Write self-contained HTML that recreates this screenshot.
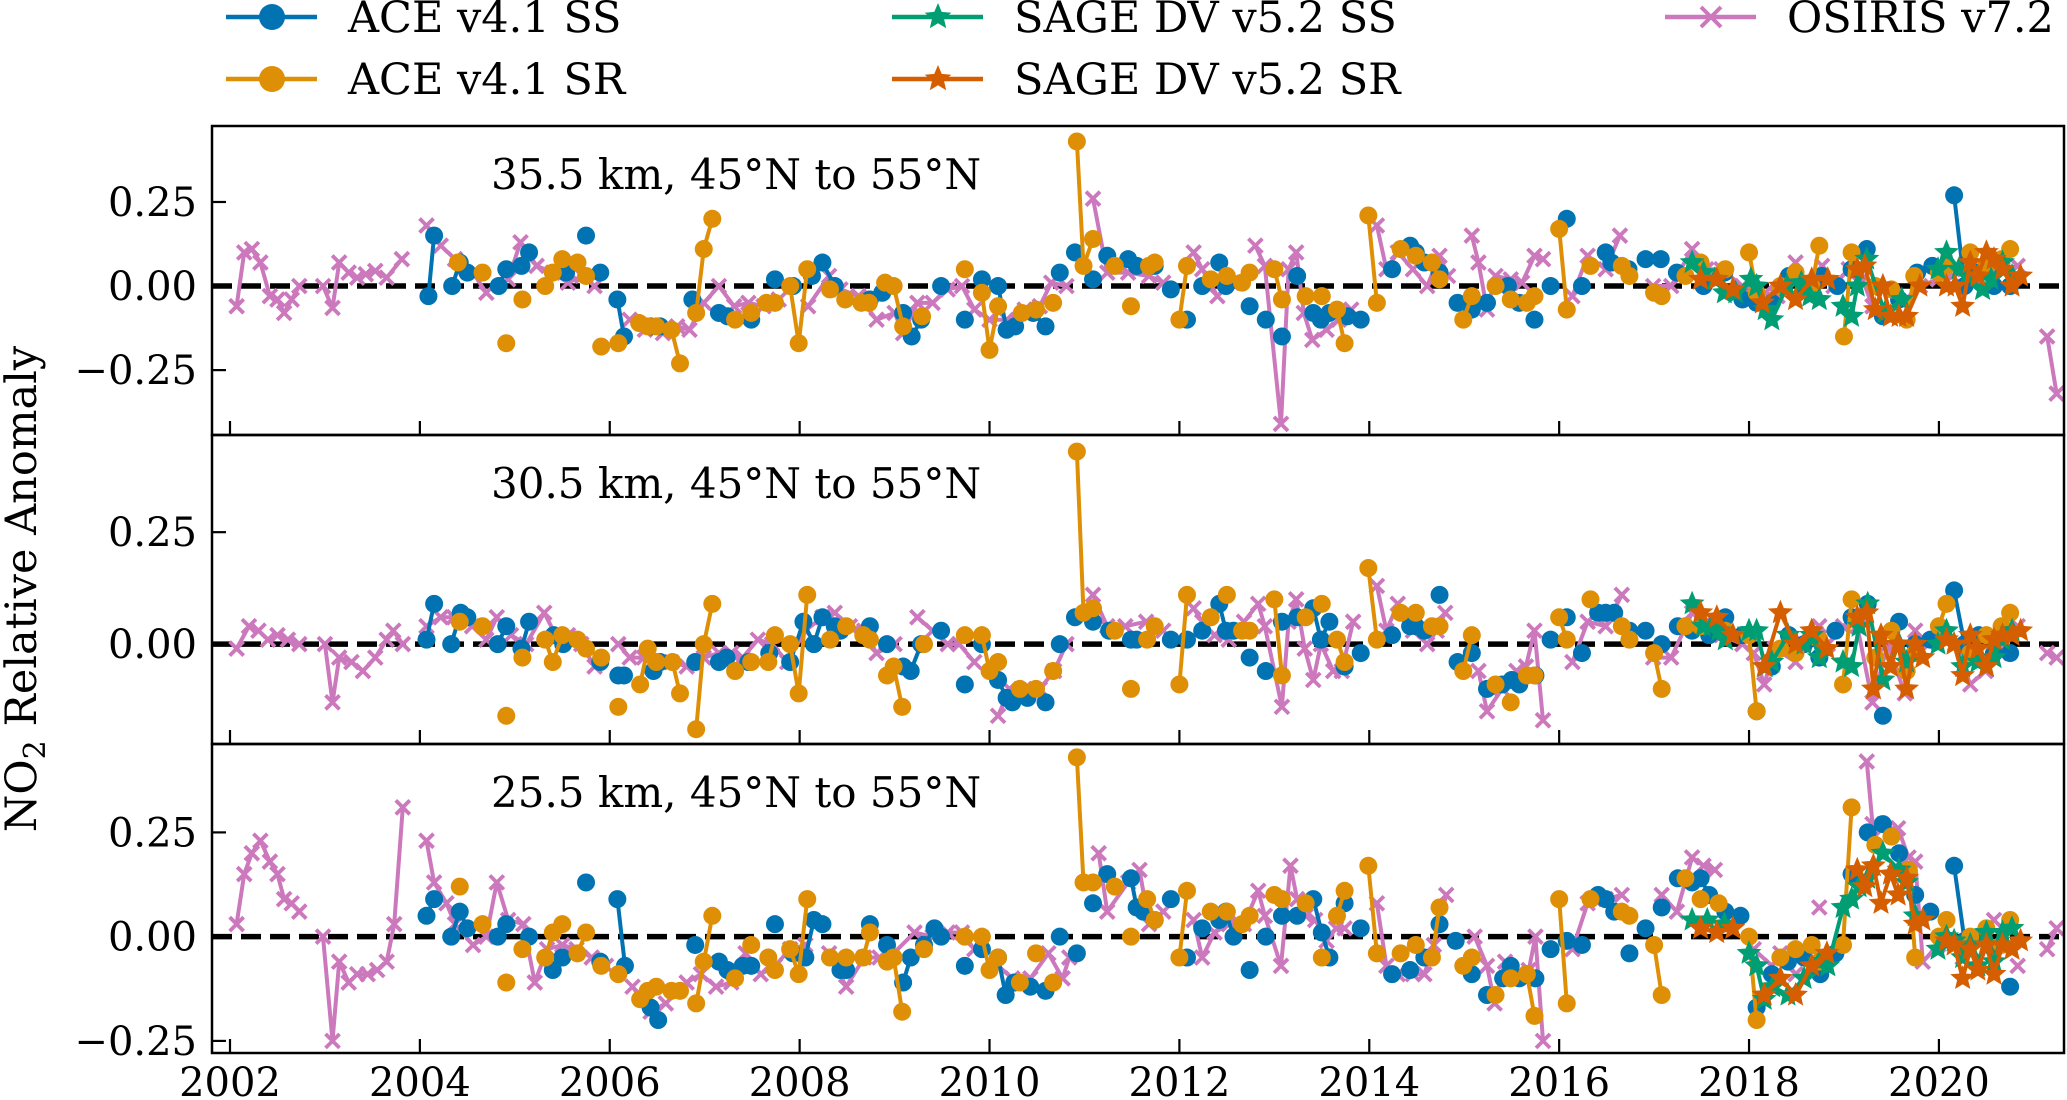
<!DOCTYPE html>
<html><head><meta charset="utf-8"><title>NO2 relative anomaly</title>
<style>
html,body{margin:0;padding:0;background:#fff;}
svg{display:block;font-family:"DejaVu Serif","Liberation Serif",serif;}
</style></head>
<body>
<svg id="chart" width="2067" height="1100" viewBox="0 0 2067 1100" xmlns="http://www.w3.org/2000/svg">
<g id="legend"></g>
<g id="panels"></g>
<text transform="translate(36,589) rotate(-90)" text-anchor="middle" font-size="43">NO<tspan font-size="30" dy="9">2</tspan><tspan dy="-9"> Relative Anomaly</tspan></text>
</svg>
<script>
// ---------- data ----------
const seriesNames = ["ACE v4.1 SS","ACE v4.1 SR","SAGE DV v5.2 SS","SAGE DV v5.2 SR","OSIRIS v7.2"];
const panelTitles = ["35.5 km, 45°N to 55°N","30.5 km, 45°N to 55°N","25.5 km, 45°N to 55°N"];
const xTickYears = [2002,2004,2006,2008,2010,2012,2014,2016,2018,2020];
const yTickValues = [[0.25,0,-0.25],[0.25,0],[0.25,0,-0.25]];

// Panel 1 (35.5 km)
const p1OsirisX = [2002.07,2002.15,2002.23,2002.32,2002.42,2002.5,2002.57,2002.65,2002.73,2002.98,2003.08,2003.15,2003.25,2003.34,2003.43,2003.53,2003.65,2003.81,2004.07,2004.22,2004.37,2004.56,2004.7,2004.93,2005.06,2005.23,2005.4,2005.56,2005.71,2005.84,2006.21,2006.37,2006.56,2006.71,2006.84,2006.99,2007.15,2007.31,2007.46,2007.62,2007.78,2008.09,2008.31,2008.43,2008.62,2008.81,2009.0,2009.09,2009.24,2009.4,2009.56,2009.71,2009.84,2010.0,2010.18,2010.37,2010.53,2010.65,2010.81,2011.09,2011.24,2011.46,2011.68,2011.83,2012.15,2012.24,2012.4,2012.55,2012.8,2012.9,2013.07,2013.15,2013.23,2013.31,2013.4,2013.55,2013.68,2013.81,2014.08,2014.18,2014.3,2014.46,2014.61,2014.74,2014.83,2015.08,2015.15,2015.24,2015.33,2015.49,2015.61,2015.74,2015.83,2016.14,2016.3,2016.49,2016.64,2016.99,2017.18,2017.4,2017.55,2017.71,2017.93,2018.05,2018.17,2018.3,2018.49,2018.61,2018.77,2018.89,2019.05,2019.17,2019.3,2019.43,2019.61,2019.8,2019.99,2020.14,2020.27,2020.39,2020.52,2020.67,2020.83,2021.14,2021.24];
const p1OsirisY = [-0.06,0.10,0.11,0.07,-0.03,-0.04,-0.08,-0.04,0.0,0.0,-0.065,0.07,0.04,0.025,0.035,0.045,0.025,0.08,0.18,0.12,0.08,0.04,-0.02,0.02,0.13,0.06,0.04,0.01,0.03,0.0,-0.1,-0.13,-0.14,-0.12,-0.13,-0.05,0.0,-0.06,-0.05,-0.06,-0.04,-0.06,0.03,-0.01,-0.03,-0.1,-0.08,-0.14,-0.05,-0.05,-0.01,0.0,-0.07,-0.1,-0.1,-0.07,-0.06,0.01,0.0,0.26,0.04,0.04,0.03,0.01,0.1,0.05,-0.03,0.01,0.12,0.06,-0.41,0.05,0.1,-0.08,-0.16,-0.13,-0.1,-0.07,0.18,0.05,0.1,0.05,0.0,0.09,0.03,0.15,0.07,-0.07,0.03,0.02,0.01,0.09,0.08,-0.03,0.09,0.05,0.15,0.0,0.0,0.11,0.05,0.05,0.0,-0.02,-0.02,-0.03,0.07,0.0,0.06,0.0,0.05,0.04,-0.06,-0.08,-0.05,0.0,0.02,0.03,0.05,0.02,0.06,0.05,0.06,-0.15,-0.32];
const p1AceSSX = [2004.09,2004.15,2004.34,2004.42,2004.5,2004.83,2004.91,2005.07,2005.15,2005.54,2005.75,2005.9,2006.08,2006.15,2006.43,2006.53,2006.87,2007.15,2007.24,2007.49,2007.74,2007.93,2008.13,2008.24,2008.37,2008.74,2008.87,2009.09,2009.18,2009.28,2009.49,2009.74,2009.92,2010.09,2010.18,2010.27,2010.46,2010.59,2010.74,2010.9,2011.09,2011.24,2011.46,2011.55,2011.74,2011.91,2012.08,2012.24,2012.42,2012.49,2012.74,2012.91,2013.08,2013.24,2013.41,2013.49,2013.58,2013.77,2013.91,2014.24,2014.43,2014.49,2014.58,2014.74,2014.93,2015.08,2015.24,2015.46,2015.58,2015.74,2015.91,2016.08,2016.24,2016.49,2016.55,2016.73,2016.91,2017.07,2017.24,2017.52,2017.74,2017.93,2018.08,2018.24,2018.42,2018.58,2018.77,2018.93,2019.08,2019.24,2019.41,2019.58,2019.77,2019.93,2020.16,2020.27,2020.42,2020.58,2020.75];
const p1AceSSY = [-0.03,0.15,0.0,0.07,0.04,0.0,0.05,0.06,0.1,0.04,0.15,0.04,-0.04,-0.15,-0.12,-0.12,-0.04,-0.08,-0.09,-0.1,0.02,0.0,0.03,0.07,0.0,-0.04,-0.02,-0.08,-0.15,-0.1,0.0,-0.1,0.02,0.0,-0.13,-0.12,-0.08,-0.12,0.04,0.1,0.02,0.09,0.08,0.06,0.06,-0.01,-0.1,0.0,0.07,0.0,-0.06,-0.1,-0.15,0.03,-0.08,-0.1,-0.08,-0.09,-0.1,0.05,0.12,0.1,0.07,0.04,-0.05,-0.07,-0.05,0.0,-0.05,-0.1,0.0,0.2,0.0,0.1,0.07,0.05,0.08,0.08,0.04,0.0,0.04,-0.04,-0.05,-0.05,0.03,0.0,0.03,0.0,0.05,0.11,-0.09,-0.04,0.04,0.06,0.27,0.0,0.04,0.0,0.0];
const p1AceSRX = [2004.4,2004.66,2004.91,2005.08,2005.32,2005.4,2005.5,2005.66,2005.75,2005.91,2006.09,2006.31,2006.4,2006.49,2006.65,2006.74,2006.91,2006.99,2007.08,2007.32,2007.49,2007.65,2007.74,2007.9,2007.99,2008.08,2008.32,2008.48,2008.65,2008.73,2008.9,2008.99,2009.09,2009.29,2009.74,2009.92,2010.0,2010.09,2010.34,2010.49,2010.67,2010.92,2010.99,2011.09,2011.32,2011.49,2011.68,2011.74,2012.0,2012.08,2012.33,2012.5,2012.66,2012.74,2013.0,2013.08,2013.33,2013.5,2013.66,2013.74,2013.99,2014.08,2014.33,2014.49,2014.66,2014.74,2014.99,2015.08,2015.33,2015.49,2015.66,2015.74,2016.0,2016.08,2016.33,2016.66,2016.74,2017.0,2017.08,2017.33,2017.49,2017.75,2018.0,2018.08,2018.33,2018.49,2018.66,2018.74,2019.0,2019.08,2019.33,2019.5,2019.66,2019.74,2020.0,2020.08,2020.33,2020.5,2020.66,2020.75];
const p1AceSRY = [0.07,0.04,-0.17,-0.04,0.0,0.04,0.08,0.07,0.03,-0.18,-0.17,-0.11,-0.12,-0.12,-0.13,-0.23,-0.08,0.11,0.2,-0.1,-0.08,-0.05,-0.05,0.0,-0.17,0.05,-0.01,-0.04,-0.05,-0.05,0.01,0.0,-0.12,-0.09,0.05,-0.02,-0.19,-0.06,-0.08,-0.07,-0.05,0.43,0.06,0.14,0.06,-0.06,0.06,0.07,-0.1,0.06,0.02,0.03,0.01,0.04,0.05,-0.04,-0.03,-0.03,-0.07,-0.17,0.21,-0.05,0.11,0.09,0.07,0.02,-0.1,-0.03,0.0,-0.04,-0.05,-0.03,0.17,-0.07,0.06,0.06,0.03,-0.02,-0.03,0.03,0.07,0.05,0.1,-0.02,0.0,0.04,0.0,0.12,-0.15,0.1,0.0,-0.01,-0.1,0.03,0.04,0.06,0.1,0.06,0.08,0.11];
const p1SageSSX = [2017.4,2017.52,2017.64,2017.74,2017.86,2018.02,2018.08,2018.17,2018.24,2018.4,2018.55,2018.64,2018.74,2018.99,2019.08,2019.14,2019.24,2019.43,2019.61,2019.99,2020.08,2020.21,2020.3,2020.46,2020.55,2020.67,2020.77];
const p1SageSSY = [0.07,0.04,0.02,-0.02,-0.02,0.02,0.0,-0.07,-0.1,0.0,0.01,-0.03,-0.04,-0.06,-0.09,0.0,0.08,-0.08,-0.04,0.05,0.1,0.05,0.03,-0.01,0.02,0.07,0.03];
const p1SageSRX = [2017.49,2017.66,2017.83,2018.14,2018.33,2018.49,2018.66,2018.83,2019.14,2019.22,2019.33,2019.41,2019.49,2019.58,2019.66,2019.8,2020.08,2020.17,2020.25,2020.33,2020.41,2020.5,2020.58,2020.67,2020.77,2020.86];
const p1SageSRY = [0.02,0.02,-0.01,-0.05,0.0,-0.04,0.02,0.02,0.05,0.06,-0.07,0.0,-0.09,-0.09,-0.09,0.0,0.0,0.0,-0.06,0.07,0.03,0.1,0.08,0.05,0.0,0.03];

// Panel 2 (30.5 km)
const p2OsirisX = [2002.07,2002.2,2002.3,2002.4,2002.5,2002.61,2002.73,2003.0,2003.08,2003.15,2003.28,2003.4,2003.53,2003.65,2003.72,2003.82,2004.07,2004.22,2004.36,2004.55,2004.7,2004.81,2004.96,2005.12,2005.31,2005.43,2005.56,2005.7,2005.84,2006.09,2006.21,2006.36,2006.53,2006.65,2006.81,2006.99,2007.15,2007.28,2007.4,2007.56,2007.71,2007.87,2008.06,2008.24,2008.37,2008.53,2008.68,2008.81,2009.0,2009.24,2009.4,2009.56,2009.68,2009.84,2010.09,2010.21,2010.37,2010.53,2010.68,2010.81,2011.09,2011.24,2011.43,2011.65,2011.83,2012.15,2012.24,2012.37,2012.52,2012.68,2012.83,2012.9,2013.08,2013.15,2013.23,2013.32,2013.41,2013.49,2013.62,2013.71,2013.83,2014.08,2014.18,2014.3,2014.46,2014.61,2014.71,2014.8,2015.15,2015.24,2015.4,2015.55,2015.65,2015.74,2015.83,2016.14,2016.3,2016.49,2016.66,2016.99,2017.18,2017.4,2017.55,2017.71,2017.93,2018.05,2018.16,2018.27,2018.49,2018.58,2018.74,2018.83,2018.99,2019.14,2019.3,2019.46,2019.64,2019.75,2019.89,2020.05,2020.17,2020.33,2020.49,2020.64,2020.83,2021.14,2021.24];
const p2OsirisY = [-0.01,0.04,0.03,0.01,0.02,0.01,0.0,0.0,-0.13,-0.03,-0.04,-0.06,-0.03,0.01,0.03,0.0,0.04,0.06,0.06,0.04,0.01,0.06,0.02,0.0,0.07,0.02,0.02,0.0,-0.05,0.0,-0.03,-0.03,-0.04,-0.04,-0.05,-0.03,-0.02,-0.02,-0.03,0.01,0.0,-0.04,0.03,0.06,0.07,0.04,0.03,-0.02,0.0,0.06,0.03,0.0,0.0,-0.04,-0.16,-0.1,-0.1,-0.1,-0.06,0.0,0.11,0.04,0.04,0.05,0.03,0.08,0.05,0.02,0.01,0.05,0.09,0.04,-0.14,0.05,0.1,-0.01,-0.08,0.0,-0.06,-0.06,0.05,0.13,0.03,0.09,0.03,0.0,0.03,0.07,-0.06,-0.15,-0.1,-0.06,-0.05,0.03,-0.17,-0.04,0.05,0.04,0.11,-0.03,-0.03,0.07,0.05,0.02,0.0,-0.02,-0.09,-0.01,-0.04,0.0,0.04,0.0,0.04,0.04,-0.13,0.0,-0.11,0.03,0.0,0.01,0.0,-0.09,-0.06,-0.02,0.04,-0.02,-0.03];
const p2AceSSX = [2004.07,2004.15,2004.33,2004.43,2004.5,2004.82,2004.91,2005.07,2005.15,2005.41,2005.51,2005.9,2006.09,2006.15,2006.46,2006.53,2006.9,2007.15,2007.23,2007.46,2007.68,2007.9,2008.04,2008.15,2008.24,2008.37,2008.43,2008.74,2008.92,2009.09,2009.17,2009.28,2009.49,2009.74,2009.92,2010.09,2010.18,2010.24,2010.4,2010.59,2010.74,2010.9,2011.09,2011.26,2011.49,2011.55,2011.91,2012.08,2012.24,2012.42,2012.49,2012.57,2012.74,2012.91,2013.08,2013.24,2013.41,2013.49,2013.58,2013.74,2013.91,2014.24,2014.43,2014.49,2014.58,2014.74,2014.93,2015.08,2015.24,2015.4,2015.5,2015.58,2015.75,2015.91,2016.08,2016.24,2016.41,2016.49,2016.58,2016.74,2016.91,2017.08,2017.25,2017.4,2017.58,2017.75,2017.93,2018.08,2018.24,2018.42,2018.58,2018.74,2018.91,2019.08,2019.25,2019.41,2019.58,2019.75,2019.91,2020.16,2020.27,2020.42,2020.58,2020.75];
const p2AceSSY = [0.01,0.09,0.0,0.07,0.06,0.0,0.04,-0.01,0.05,0.02,0.0,-0.04,-0.07,-0.07,-0.06,-0.04,-0.04,-0.04,-0.03,-0.04,-0.02,-0.04,0.05,0.0,0.06,0.04,0.03,0.04,0.0,-0.05,-0.06,0.0,0.03,-0.09,0.0,-0.08,-0.12,-0.13,-0.12,-0.13,0.0,0.06,0.05,0.03,0.01,0.01,0.01,0.01,0.03,0.09,0.03,0.03,-0.03,-0.06,0.05,0.06,0.08,0.01,0.05,-0.05,-0.02,0.02,0.04,0.04,0.03,0.11,-0.04,-0.02,-0.1,-0.09,-0.08,-0.09,-0.07,0.01,0.06,-0.02,0.07,0.07,0.07,0.03,0.03,0.0,0.04,0.03,0.02,0.06,0.02,-0.15,-0.05,0.02,0.0,-0.03,0.03,0.06,0.09,-0.16,0.05,0.0,0.01,0.12,0.0,0.02,-0.02,-0.02];
const p2AceSRX = [2004.42,2004.66,2004.91,2005.08,2005.32,2005.4,2005.5,2005.66,2005.75,2005.91,2006.09,2006.32,2006.4,2006.49,2006.66,2006.74,2006.91,2006.99,2007.08,2007.32,2007.49,2007.67,2007.74,2007.9,2007.99,2008.08,2008.32,2008.49,2008.67,2008.74,2008.92,2008.99,2009.08,2009.31,2009.74,2009.92,2010.0,2010.09,2010.32,2010.49,2010.67,2010.92,2010.99,2011.09,2011.32,2011.49,2011.66,2011.74,2012.0,2012.08,2012.33,2012.5,2012.66,2012.74,2013.0,2013.08,2013.33,2013.5,2013.66,2013.74,2013.99,2014.08,2014.33,2014.49,2014.66,2014.74,2014.99,2015.08,2015.33,2015.49,2015.66,2015.74,2016.0,2016.08,2016.33,2016.66,2016.74,2017.0,2017.08,2017.33,2017.49,2017.75,2018.0,2018.08,2018.33,2018.49,2018.66,2018.74,2018.99,2019.08,2019.33,2019.5,2019.66,2019.75,2020.0,2020.08,2020.33,2020.5,2020.66,2020.75];
const p2AceSRY = [0.05,0.04,-0.16,-0.03,0.01,-0.04,0.02,0.01,-0.01,-0.03,-0.14,-0.09,-0.01,-0.04,-0.04,-0.11,-0.19,0.0,0.09,-0.06,-0.04,-0.04,0.02,0.0,-0.11,0.11,0.01,0.04,0.02,0.01,-0.07,-0.05,-0.14,0.0,0.02,0.02,-0.06,-0.04,-0.1,-0.1,-0.06,0.43,0.07,0.08,0.03,-0.1,0.01,0.04,-0.09,0.11,0.06,0.11,0.03,0.03,0.1,-0.07,0.06,0.09,0.01,-0.04,0.17,0.01,0.07,0.07,0.04,0.04,-0.06,0.02,-0.09,-0.13,-0.07,-0.07,0.06,0.01,0.1,0.04,0.01,-0.02,-0.1,0.04,0.04,0.03,0.02,-0.15,-0.01,-0.02,0.02,0.01,-0.09,0.1,-0.03,0.03,-0.06,-0.02,0.04,0.09,-0.02,0.02,0.04,0.07];
const p2SageSSX = [2017.4,2017.52,2017.6,2017.68,2017.75,2018.0,2018.08,2018.17,2018.24,2018.41,2018.58,2018.66,2018.74,2018.99,2019.08,2019.16,2019.25,2019.41,2019.58,2019.66,2019.99,2020.08,2020.16,2020.25,2020.41,2020.5,2020.58,2020.67,2020.77];
const p2SageSSY = [0.09,0.04,0.04,0.03,0.01,0.03,0.03,-0.05,-0.04,0.02,0.0,0.02,-0.03,-0.04,-0.05,0.04,0.09,-0.08,0.0,-0.04,0.0,0.03,0.0,-0.05,-0.04,-0.05,-0.03,0.01,0.03];
const p2SageSRX = [2017.49,2017.66,2017.83,2018.16,2018.33,2018.49,2018.66,2018.82,2019.14,2019.24,2019.31,2019.39,2019.49,2019.57,2019.66,2019.75,2019.83,2020.08,2020.16,2020.25,2020.33,2020.41,2020.5,2020.58,2020.67,2020.77,2020.86];
const p2SageSRY = [0.07,0.06,0.02,-0.05,0.07,0.0,0.03,-0.01,0.06,0.07,-0.1,0.02,-0.05,0.0,-0.1,0.0,-0.03,0.01,0.0,-0.07,0.02,-0.01,-0.05,0.01,0.02,0.02,0.03];

// Panel 3 (25.5 km)
const p3OsirisX = [2002.07,2002.15,2002.23,2002.32,2002.42,2002.5,2002.57,2002.65,2002.73,2002.98,2003.08,2003.15,2003.25,2003.34,2003.45,2003.55,2003.65,2003.73,2003.82,2004.07,2004.15,2004.28,2004.37,2004.56,2004.7,2004.81,2004.93,2005.09,2005.21,2005.34,2005.5,2005.65,2005.81,2005.96,2006.24,2006.43,2006.59,2006.81,2006.96,2007.12,2007.28,2007.43,2007.59,2007.74,2007.9,2008.06,2008.31,2008.49,2008.68,2008.84,2008.99,2009.21,2009.4,2009.56,2009.71,2009.84,2010.09,2010.24,2010.43,2010.62,2010.77,2010.84,2011.15,2011.24,2011.46,2011.58,2011.68,2011.83,2012.15,2012.24,2012.37,2012.52,2012.68,2012.83,2012.9,2013.07,2013.17,2013.24,2013.33,2013.43,2013.55,2013.65,2013.74,2014.08,2014.18,2014.3,2014.46,2014.58,2014.68,2014.81,2015.11,2015.24,2015.32,2015.43,2015.55,2015.68,2015.75,2015.83,2016.14,2016.3,2016.49,2016.66,2017.08,2017.24,2017.4,2017.52,2017.64,2018.05,2018.24,2018.33,2018.49,2018.74,2019.24,2019.3,2019.41,2019.57,2019.68,2019.75,2019.83,2019.99,2020.11,2020.25,2020.42,2020.58,2020.83,2021.14,2021.24];
const p3OsirisY = [0.03,0.15,0.2,0.23,0.18,0.15,0.09,0.08,0.06,0.0,-0.25,-0.06,-0.11,-0.09,-0.09,-0.08,-0.06,0.03,0.31,0.23,0.13,0.08,0.03,-0.02,0.0,0.13,0.04,0.03,-0.11,-0.03,-0.02,-0.03,-0.05,-0.07,-0.12,-0.18,-0.16,-0.11,-0.09,-0.12,-0.11,-0.04,-0.09,-0.07,-0.03,-0.02,-0.04,-0.12,-0.05,-0.05,-0.04,0.01,0.0,0.01,0.01,-0.03,-0.07,-0.1,-0.1,-0.04,-0.1,-0.05,0.2,0.06,0.13,0.16,0.03,0.06,0.04,-0.05,0.01,0.03,0.03,0.11,0.05,-0.07,0.17,0.09,0.05,0.04,-0.01,0.02,0.02,0.08,-0.07,-0.09,-0.09,-0.09,-0.02,0.1,0.0,-0.07,-0.16,-0.06,-0.09,-0.08,0.0,-0.25,-0.03,0.08,0.09,0.1,0.1,0.06,0.19,0.17,0.16,-0.03,-0.07,-0.04,-0.09,0.07,0.42,0.27,0.26,0.26,0.19,0.18,-0.06,-0.02,-0.01,-0.05,0.0,0.04,-0.07,-0.03,0.02];
const p3AceSSX = [2004.07,2004.15,2004.33,2004.42,2004.5,2004.82,2004.91,2005.15,2005.4,2005.5,2005.75,2005.9,2006.08,2006.16,2006.43,2006.51,2006.9,2007.15,2007.24,2007.4,2007.49,2007.74,2007.93,2008.06,2008.15,2008.24,2008.43,2008.49,2008.74,2008.92,2009.09,2009.17,2009.31,2009.42,2009.49,2009.74,2009.92,2010.09,2010.17,2010.26,2010.43,2010.59,2010.74,2010.92,2011.09,2011.24,2011.49,2011.55,2011.62,2011.74,2011.91,2012.08,2012.24,2012.42,2012.49,2012.57,2012.74,2012.91,2013.08,2013.24,2013.41,2013.5,2013.58,2013.74,2013.91,2014.24,2014.43,2014.58,2014.74,2014.91,2015.08,2015.24,2015.41,2015.49,2015.58,2015.75,2015.91,2016.08,2016.24,2016.41,2016.49,2016.58,2016.74,2016.91,2017.08,2017.25,2017.4,2017.49,2017.58,2017.75,2017.91,2018.08,2018.24,2018.41,2018.58,2018.75,2018.91,2019.08,2019.25,2019.41,2019.58,2019.75,2019.91,2020.16,2020.27,2020.42,2020.58,2020.75];
const p3AceSSY = [0.05,0.09,0.0,0.06,0.02,0.0,0.03,0.0,-0.08,-0.05,0.13,-0.06,0.09,-0.07,-0.17,-0.2,-0.02,-0.06,-0.08,-0.07,-0.07,0.03,-0.04,-0.05,0.04,0.03,-0.08,-0.08,0.03,-0.02,-0.11,-0.05,-0.02,0.02,0.0,-0.07,-0.03,-0.05,-0.14,-0.11,-0.12,-0.13,0.0,-0.04,0.08,0.15,0.14,0.07,0.06,0.04,0.09,-0.05,0.02,0.04,0.06,0.0,-0.08,0.0,0.05,0.05,0.09,0.01,-0.05,0.08,0.02,-0.09,-0.08,-0.05,0.03,-0.01,-0.09,-0.14,-0.1,-0.07,-0.1,-0.1,-0.03,-0.01,-0.02,0.1,0.09,0.06,-0.04,0.02,0.07,0.14,0.13,0.14,0.1,0.06,0.05,-0.17,-0.09,-0.06,-0.05,-0.09,-0.04,0.15,0.25,0.27,0.2,0.1,0.06,0.17,-0.01,0.0,-0.03,-0.12];
const p3AceSRX = [2004.42,2004.66,2004.91,2005.08,2005.32,2005.4,2005.5,2005.66,2005.75,2005.91,2006.09,2006.32,2006.4,2006.49,2006.65,2006.74,2006.91,2006.99,2007.08,2007.32,2007.49,2007.67,2007.74,2007.9,2007.99,2008.08,2008.32,2008.49,2008.67,2008.74,2008.92,2008.99,2009.08,2009.31,2009.74,2009.92,2010.0,2010.09,2010.32,2010.49,2010.67,2010.92,2010.99,2011.09,2011.32,2011.49,2011.66,2011.74,2012.0,2012.08,2012.33,2012.5,2012.66,2012.74,2013.0,2013.08,2013.33,2013.5,2013.66,2013.74,2013.99,2014.08,2014.33,2014.49,2014.66,2014.74,2014.99,2015.08,2015.33,2015.49,2015.66,2015.74,2016.0,2016.08,2016.33,2016.66,2016.74,2017.0,2017.08,2017.33,2017.49,2017.68,2018.0,2018.08,2018.33,2018.49,2018.66,2018.74,2018.99,2019.08,2019.33,2019.5,2019.68,2019.75,2020.0,2020.08,2020.33,2020.5,2020.66,2020.75];
const p3AceSRY = [0.12,0.03,-0.11,-0.03,-0.05,0.01,0.03,-0.04,0.01,-0.07,-0.09,-0.15,-0.13,-0.12,-0.13,-0.13,-0.16,-0.06,0.05,-0.1,-0.02,-0.05,-0.08,-0.03,-0.09,0.09,-0.05,-0.05,-0.05,0.01,-0.06,-0.05,-0.18,-0.03,0.0,0.0,-0.08,-0.05,-0.11,-0.04,-0.11,0.43,0.13,0.13,0.12,0.0,0.09,0.04,-0.05,0.11,0.06,0.06,0.03,0.05,0.1,0.09,0.08,-0.05,0.05,0.11,0.17,-0.04,-0.04,-0.02,-0.05,0.07,-0.07,-0.05,-0.14,-0.1,-0.09,-0.19,0.09,-0.16,0.09,0.06,0.05,-0.02,-0.14,0.14,0.09,0.08,0.0,-0.2,-0.05,-0.03,-0.02,-0.06,-0.02,0.31,0.22,0.24,0.16,-0.05,0.0,0.04,0.0,0.02,-0.02,0.04];
const p3SageSSX = [2017.4,2017.56,2017.74,2018.0,2018.08,2018.16,2018.25,2018.41,2018.58,2018.74,2018.83,2018.99,2019.08,2019.16,2019.25,2019.41,2019.58,2019.66,2019.75,2019.99,2020.08,2020.16,2020.25,2020.33,2020.41,2020.5,2020.58,2020.67,2020.77];
const p3SageSSY = [0.04,0.04,0.03,-0.04,-0.07,-0.15,-0.12,-0.14,-0.1,-0.06,-0.07,0.07,0.09,0.12,0.14,0.2,0.16,0.13,0.05,-0.03,0.0,-0.01,-0.05,-0.02,-0.07,0.01,-0.06,0.01,0.02];
const p3SageSRX = [2017.49,2017.66,2017.83,2018.16,2018.33,2018.49,2018.66,2018.82,2019.14,2019.22,2019.31,2019.39,2019.49,2019.57,2019.66,2019.75,2019.83,2020.08,2020.16,2020.25,2020.33,2020.41,2020.5,2020.58,2020.67,2020.77,2020.86];
const p3SageSRY = [0.02,0.01,0.02,-0.14,-0.1,-0.14,-0.07,-0.04,0.16,0.12,0.17,0.08,0.15,0.1,0.14,0.03,0.04,-0.01,-0.02,-0.1,-0.03,-0.08,-0.02,-0.09,-0.02,-0.03,-0.01];

// ---------- rendering ----------
const NS = "http://www.w3.org/2000/svg";
const colors = ["#0173b2","#de8f05","#029e73","#d55e00","#cc78bc"];
const markerKinds = ["circle","circle","star","star","x"];
const gapYears = [0.14,0.14,0.2,0.2,0.23];
const plotLeft = 212, plotRight = 2064;
const panelTops = [126,435,744], panelH = 309;
const yLims = [[0.476,-0.443],[0.467,-0.223],[0.462,-0.279]];
const panelData = [
  [[p1AceSSX,p1AceSSY],[p1AceSRX,p1AceSRY],[p1SageSSX,p1SageSSY],[p1SageSRX,p1SageSRY],[p1OsirisX,p1OsirisY]],
  [[p2AceSSX,p2AceSSY],[p2AceSRX,p2AceSRY],[p2SageSSX,p2SageSSY],[p2SageSRX,p2SageSRY],[p2OsirisX,p2OsirisY]],
  [[p3AceSSX,p3AceSSY],[p3AceSRX,p3AceSRY],[p3SageSSX,p3SageSSY],[p3SageSRX,p3SageSRY],[p3OsirisX,p3OsirisY]]
];
function xScale(yr){ return 230 + (yr - 2002) * 94.94; }
function yScaleFor(i){ const t=panelTops[i], lim=yLims[i]; return v => t + (lim[0]-v)/(lim[0]-lim[1])*panelH; }
function el(tag, attrs, parent){ const e=document.createElementNS(NS,tag); for(const k in attrs) e.setAttribute(k,attrs[k]); parent.appendChild(e); return e; }
function starPath(cx,cy,r){ let d=""; for(let k=0;k<10;k++){ const a=-Math.PI/2+k*Math.PI/5; const rr=k%2?r*0.45:r; d+=(k?"L":"M")+(cx+rr*Math.cos(a)).toFixed(1)+","+(cy+rr*Math.sin(a)).toFixed(1);} return d+"Z"; }
function marker(kind,cx,cy,color,parent){
  let m;
  if(kind==="circle"){ m=el("circle",{cx:cx,cy:cy,r:9,fill:color},parent); }
  else if(kind==="star"){ m=el("path",{d:starPath(cx,cy,10.5),fill:color,stroke:color,"stroke-width":2},parent); }
  else { const s=7; m=el("path",{d:`M${cx-s},${cy-s}L${cx+s},${cy+s}M${cx-s},${cy+s}L${cx+s},${cy-s}`,stroke:color,"stroke-width":3.8,fill:"none"},parent); }
  return m;
}
const panelsG = document.getElementById("panels");
const drawOrder = [4,0,1,2,3];
const seriesSlugs = ["ace-ss","ace-sr","sage-ss","sage-sr","osiris"];
for(let p=0;p<3;p++){
  const ys = yScaleFor(p);
  const g = el("g",{},panelsG);
  
  
  const clipId="clip"+p;
  const cp=el("clipPath",{id:clipId},g); el("rect",{x:plotLeft,y:panelTops[p],width:plotRight-plotLeft,height:panelH},cp);
  const zero = el("line",{x1:plotLeft,x2:plotRight,y1:ys(0),y2:ys(0),stroke:"#000","stroke-width":5.5,"stroke-dasharray":"20 9"},g);
  
  
  const dg = el("g",{"clip-path":`url(#${clipId})`},g);
  for(const s of drawOrder){
    const [xs,vs] = panelData[p][s];
    const sg = el("g",{},dg);
    
    
    let d="";
    for(let i=0;i<xs.length;i++){
      const cmd = (i>0 && xs[i]-xs[i-1]<=gapYears[s]) ? "L" : "M";
      d += cmd + xScale(xs[i]).toFixed(1) + "," + ys(vs[i]).toFixed(1);
    }
    el("path",{d:d,fill:"none",stroke:colors[s],"stroke-width":4,"stroke-linejoin":"round"},sg);
    for(let i=0;i<xs.length;i++){
      const m = marker(markerKinds[s],xScale(xs[i]),ys(vs[i]),colors[s],sg);
      
      
    }
  }
  const frame = el("rect",{x:plotLeft,y:panelTops[p],width:plotRight-plotLeft,height:panelH,fill:"none",stroke:"#000","stroke-width":2.5},g);
  
  
  const bottom = panelTops[p]+panelH;
  for(const yr of xTickYears){
    const t = el("line",{x1:xScale(yr),x2:xScale(yr),y1:bottom,y2:bottom-14,stroke:"#000","stroke-width":2.2},g);
    
    
  }
  for(const v of yTickValues[p]){
    const t = el("line",{x1:plotLeft,x2:plotLeft+14,y1:ys(v),y2:ys(v),stroke:"#000","stroke-width":2.2},g);
    
    
    const lbl = el("text",{x:197,y:ys(v)+14,"text-anchor":"end","font-size":40},g);
    lbl.textContent = (v<0?"\u2212":"") + Math.abs(v).toFixed(2);
    
    
  }
  const title = el("text",{x:491,y:panelTops[p]+63,"font-size":42},g);
  title.textContent = panelTitles[p];
  
  
}
for(const yr of xTickYears){
  const t = el("text",{x:xScale(yr),y:1096,"text-anchor":"middle","font-size":40},panelsG);
  t.textContent = String(yr);
  
  
}
// legend
const legendG = document.getElementById("legend");
const legendPos = [[226,17],[226,79],[892,17],[892,79],[1665,17]];
for(let s=0;s<5;s++){
  const [lx,ly] = legendPos[s];
  const g = el("g",{},legendG);
  
  
  el("line",{x1:lx,x2:lx+91,y1:ly,y2:ly,stroke:colors[s],"stroke-width":4.5},g);
  if(markerKinds[s]==="circle") el("circle",{cx:lx+46,cy:ly,r:13,fill:colors[s]},g);
  else if(markerKinds[s]==="star") el("path",{d:starPath(lx+46,ly,14),fill:colors[s]},g);
  else el("path",{d:`M${lx+36},${ly-10}L${lx+56},${ly+10}M${lx+36},${ly+10}L${lx+56},${ly-10}`,stroke:colors[s],"stroke-width":4,fill:"none"},g);
  const t = el("text",{x:lx+122,y:ly+15,"font-size":43},g);
  t.textContent = seriesNames[s];
}
</script>
</body></html>
